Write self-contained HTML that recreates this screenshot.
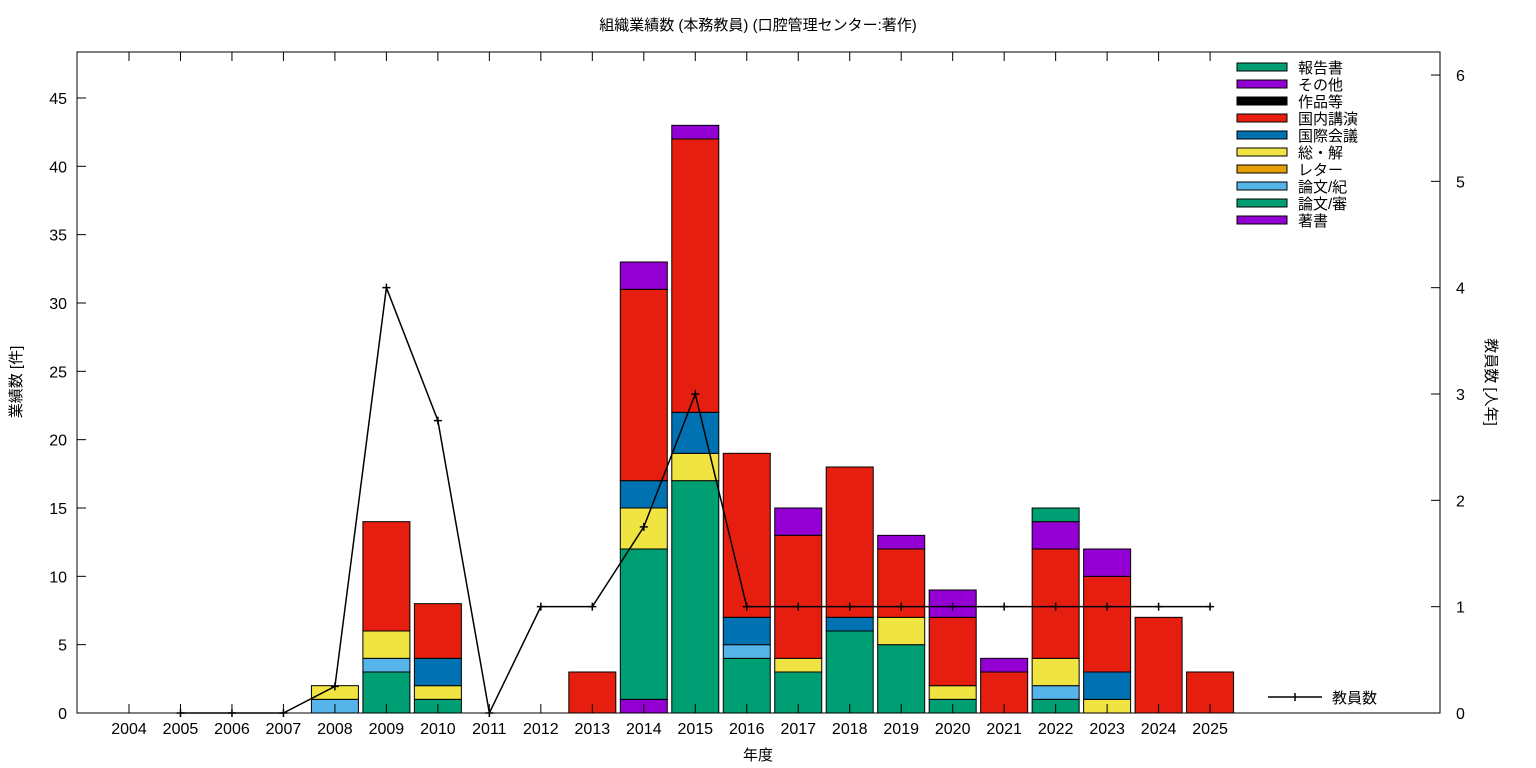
<!DOCTYPE html>
<html><head><meta charset="utf-8"><style>
body{margin:0;background:#fff;}
svg{display:block;font-family:"Liberation Sans","Noto Sans CJK JP",sans-serif;}
</style></head><body>
<svg id="c" width="1536" height="768" viewBox="0 0 1536 768">
<text x="758" y="30" font-size="15" text-anchor="middle">組織業績数 (本務教員) (口腔管理センター:著作)</text>
<text x="758" y="760" font-size="15" text-anchor="middle">年度</text>
<text transform="translate(21,382) rotate(-90)" font-size="15" text-anchor="middle">業績数 [件]</text>
<text transform="translate(1486,382) rotate(90)" font-size="15" text-anchor="middle">教員数 [人年]</text>
<g id="bars"></g><g id="axes"></g><g id="line"></g><g id="legend"></g>
</svg>
<script>
const years=[2004,2005,2006,2007,2008,2009,2010,2011,2012,2013,2014,2015,2016,2017,2018,2019,2020,2021,2022,2023,2024,2025];
const seriesNames=["著書","論文/審","論文/紀","レター","総・解","国際会議","国内講演","作品等","その他","報告書"];
const seriesColors=["#9400d3","#009e73","#56b4e9","#e69f00","#f0e442","#0072b2","#e51e10","#000000","#9400d3","#009e73"];
const chosho   =[0,0,0,0,0,0,0,0,0,0,1,0,0,0,0,0,0,0,0,0,0,0];
const shinsa   =[0,0,0,0,0,3,1,0,0,0,11,17,4,3,6,5,1,0,1,0,0,0];
const kiyo     =[0,0,0,0,1,1,0,0,0,0,0,0,1,0,0,0,0,0,1,0,0,0];
const letter   =[0,0,0,0,0,0,0,0,0,0,0,0,0,0,0,0,0,0,0,0,0,0];
const sokai    =[0,0,0,0,1,2,1,0,0,0,3,2,0,1,0,2,1,0,2,1,0,0];
const kokusai  =[0,0,0,0,0,0,2,0,0,0,2,3,2,0,1,0,0,0,0,2,0,0];
const kokunai  =[0,0,0,0,0,8,4,0,0,3,14,20,12,9,11,5,5,3,8,7,7,3];
const sakuhin  =[0,0,0,0,0,0,0,0,0,0,0,0,0,0,0,0,0,0,0,0,0,0];
const sonota   =[0,0,0,0,0,0,0,0,0,0,2,1,0,2,0,1,2,1,2,2,0,0];
const hokoku   =[0,0,0,0,0,0,0,0,0,0,0,0,0,0,0,0,0,0,1,0,0,0];
const staff    =[null,0,0,0,0.25,4,2.75,0,1,1,1.75,3,1,1,1,1,1,1,1,1,1,1];
const yTicks=[0,5,10,15,20,25,30,35,40,45];
const y2Ticks=[0,1,2,3,4,5,6];
const series=[chosho,shinsa,kiyo,letter,sokai,kokusai,kokunai,sakuhin,sonota,hokoku];

const L=77,R=1440,T=52,B=713;
const X=i=>129+i*51.48;
const Y=v=>B-v*13.667;
const Y2=v=>B-v*106.33;
const NS="http://www.w3.org/2000/svg";
function mk(tag,attrs,parent){const e=document.createElementNS(NS,tag);for(const k in attrs)e.setAttribute(k,attrs[k]);parent.appendChild(e);return e;}
const gb=document.getElementById('bars'),ga=document.getElementById('axes'),gl=document.getElementById('line'),gg=document.getElementById('legend');
const bw=47;
years.forEach((yr,i)=>{let base=0;series.forEach((s,k)=>{const v=s[i];if(!v)return;
 const r=mk('rect',{x:X(i)-bw/2,y:Y(base+v),width:bw,height:Y(base)-Y(base+v),fill:seriesColors[k],stroke:'#000','stroke-width':1},gb);
 
 
 base+=v;});});
mk('rect',{x:L,y:T,width:R-L,height:B-T,fill:'none',stroke:'#000','stroke-width':1},ga);
yTicks.forEach(t=>{const y=Y(t);
 mk('line',{x1:L,y1:y,x2:L+9,y2:y,stroke:'#000'},ga);
 const tx=mk('text',{x:L-10,y:y+6,'font-size':16,'text-anchor':'end'},ga);tx.textContent=t;
 
 });
y2Ticks.forEach(t=>{const y=Y2(t);
 mk('line',{x1:R-9,y1:y,x2:R,y2:y,stroke:'#000'},ga);
 const tx=mk('text',{x:R+16,y:y+6,'font-size':16},ga);tx.textContent=t;
 
 });
years.forEach((yr,i)=>{const x=X(i);
 mk('line',{x1:x,y1:B,x2:x,y2:B-9,stroke:'#000'},ga);
 mk('line',{x1:x,y1:T,x2:x,y2:T+9,stroke:'#000'},ga);
 const tx=mk('text',{x:x,y:734,'font-size':16,'text-anchor':'middle'},ga);tx.textContent=yr;
 
 });
let pts=[];staff.forEach((v,i)=>{if(v!==null)pts.push(X(i)+','+Y2(v));});
const pl=mk('polyline',{points:pts.join(' '),fill:'none',stroke:'#000','stroke-width':1.5},gl);


staff.forEach((v,i)=>{if(v===null)return;const x=X(i),y=Y2(v);
 const p=mk('path',{d:`M${x-4},${y}H${x+4}M${x},${y-4}V${y+4}`,stroke:'#000','stroke-width':1.5},gl);
 
 });
for(let k=seriesNames.length-1,row=0;k>=0;k--,row++){const y=67+row*17;
 const g=mk('g',{},gg);
 
 
 mk('rect',{x:1237,y:y-4,width:50,height:8,fill:seriesColors[k],stroke:'#000'},g);
 const t=mk('text',{x:1298,y:y+6,'font-size':15},g);t.textContent=seriesNames[k];}
const lg=mk('g',{},gg);


mk('path',{d:'M1268,697H1322M1295,693V701',stroke:'#000','stroke-width':1.5},lg);
mk('text',{x:1332,y:703,'font-size':15},lg).textContent='教員数';
</script>
</body></html>
